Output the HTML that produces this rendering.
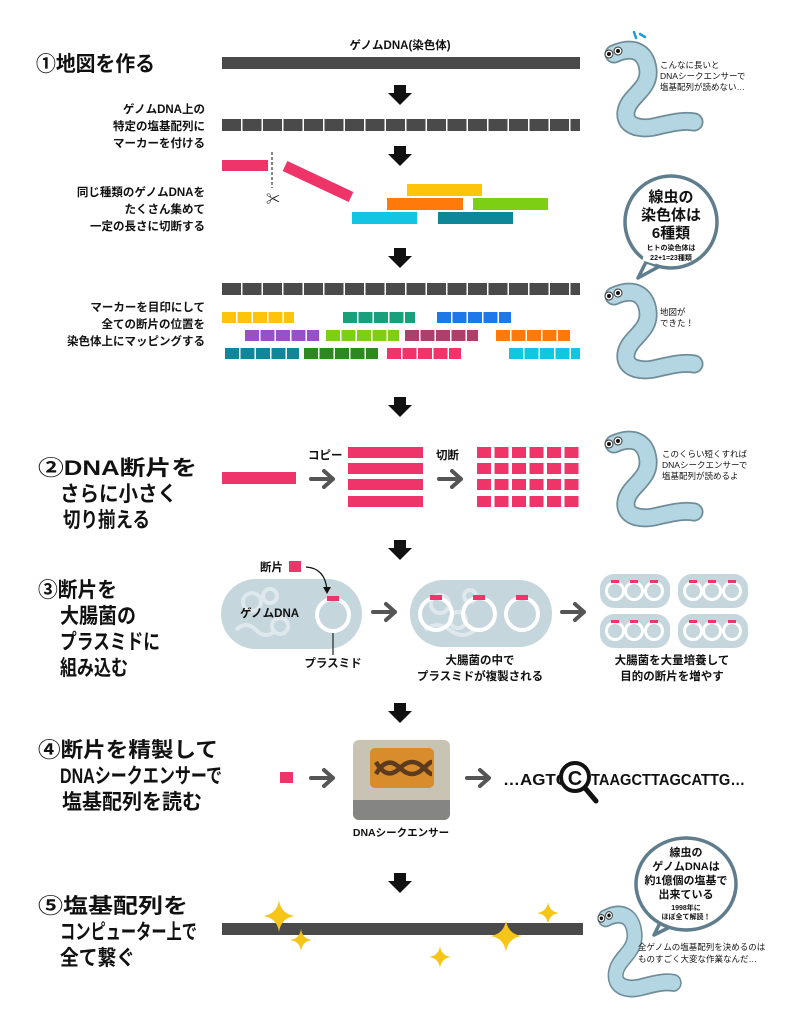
<!DOCTYPE html>
<html><head><meta charset="utf-8"><style>
html,body{margin:0;padding:0;background:#fff;}
svg{display:block;}
text{font-family:"Liberation Sans","Noto Sans CJK JP",sans-serif;font-weight:bold;fill:#111;}
.t{font-size:21px;}
.m{font-size:11.5px;}
.s{font-size:8.5px;font-weight:normal;}
</style></head><body>
<svg width="796" height="1024" viewBox="0 0 796 1024" xmlns="http://www.w3.org/2000/svg">
<defs>
<g id="darr"><rect x="-6" y="0" width="12" height="9" fill="#111"/><polygon points="-12,8 12,8 0,20" fill="#111"/></g>
<g id="rarr"><path d="M0 0 H22 M13 -8 L22 0 L13 8" stroke="#555" stroke-width="4" fill="none" stroke-linecap="round" stroke-linejoin="round"/></g>
<g id="worm">
<path d="M16 14 C33 6 48 10 50 30 C52 50 30 56 28 72 C26 88 45 90 60 86 C73 83 86 80 96 82" stroke="#6f8d99" stroke-width="19" fill="none" stroke-linecap="round"/>
<path d="M16 14 C33 6 48 10 50 30 C52 50 30 56 28 72 C26 88 45 90 60 86 C73 83 86 80 96 82" stroke="#b4d6e2" stroke-width="15.5" fill="none" stroke-linecap="round"/>
<circle cx="11" cy="14" r="4" fill="#fff" stroke="#333" stroke-width="1"/><circle cx="11" cy="14" r="2" fill="#111"/>
<circle cx="20" cy="11" r="4" fill="#fff" stroke="#333" stroke-width="1"/><circle cx="20" cy="11" r="2" fill="#111"/>
</g>
<g id="spark"><path d="M0 -1 Q0.12 -0.12 1 0 Q0.12 0.12 0 1 Q-0.12 0.12 -1 0 Q-0.12 -0.12 0 -1Z" fill="#f5c518"/></g>
</defs>

<!-- Section 1 -->
<text x="36" y="71" class="t" textLength="119" lengthAdjust="spacingAndGlyphs">①地図を作る</text>
<text x="400" y="49" class="m" text-anchor="middle">ゲノムDNA(染色体)</text>
<rect x="222" y="57" width="358" height="12" fill="#4a4a4a"/>
<use href="#darr" x="400" y="85"/>
<text x="205" y="113" class="m" text-anchor="end">ゲノムDNA上の</text>
<text x="205" y="130" class="m" text-anchor="end">特定の塩基配列に</text>
<text x="205" y="147" class="m" text-anchor="end">マーカーを付ける</text>
<rect x="222" y="119" width="358" height="12" fill="#4a4a4a"/>
<line x1="222" y1="125" x2="580" y2="125" stroke="#fff" stroke-width="12" stroke-dasharray="0 19 1.5 0"/>
<use href="#darr" x="400" y="146"/>
<rect x="222" y="160" width="46" height="11" fill="#ee3468"/>
<line x1="272" y1="152" x2="272" y2="188" stroke="#111" stroke-width="1" stroke-dasharray="3 2"/>
<text x="266" y="204" style="font-size:14px;font-weight:normal">✂</text>
<line x1="285" y1="166" x2="351" y2="197" stroke="#ee3468" stroke-width="11"/>
<text x="205" y="196" class="m" text-anchor="end">同じ種類のゲノムDNAを</text>
<text x="205" y="213" class="m" text-anchor="end">たくさん集めて</text>
<text x="205" y="230" class="m" text-anchor="end">一定の長さに切断する</text>
<rect x="407" y="184" width="75" height="12" fill="#fcc40a"/>
<rect x="387" y="198" width="76" height="12" fill="#ff7a0a"/>
<rect x="473" y="198" width="75" height="12" fill="#7ccf12"/>
<rect x="352" y="212" width="65" height="12" fill="#13c5e2"/>
<rect x="438" y="212" width="75" height="12" fill="#0e8799"/>
<use href="#darr" x="400" y="248"/>
<rect x="222" y="283" width="358" height="12" fill="#4a4a4a"/>
<line x1="222" y1="289" x2="580" y2="289" stroke="#fff" stroke-width="12" stroke-dasharray="0 19 1.5 0"/>
<text x="205" y="311" class="m" text-anchor="end">マーカーを目印にして</text>
<text x="205" y="328" class="m" text-anchor="end">全ての断片の位置を</text>
<text x="205" y="345" class="m" text-anchor="end">染色体上にマッピングする</text>
<g stroke="#fff" stroke-width="11" stroke-dasharray="0 14 1.5 0">
<rect x="222" y="312" width="72" height="11" fill="#fcc40a" stroke="none"/><line x1="222" y1="317.5" x2="294" y2="317.5"/>
<rect x="343" y="312" width="72" height="11" fill="#17a079" stroke="none"/><line x1="343" y1="317.5" x2="415" y2="317.5"/>
<rect x="437" y="312" width="74" height="11" fill="#1f78e8" stroke="none"/><line x1="437" y1="317.5" x2="511" y2="317.5"/>
<rect x="245" y="330" width="74" height="11" fill="#9b4fc4" stroke="none"/><line x1="245" y1="335.5" x2="319" y2="335.5"/>
<rect x="326" y="330" width="73" height="11" fill="#7ccf12" stroke="none"/><line x1="326" y1="335.5" x2="399" y2="335.5"/>
<rect x="405" y="330" width="73" height="11" fill="#a9416a" stroke="none"/><line x1="405" y1="335.5" x2="478" y2="335.5"/>
<rect x="496" y="330" width="74" height="11" fill="#ff7a0a" stroke="none"/><line x1="496" y1="335.5" x2="570" y2="335.5"/>
<rect x="225" y="348" width="74" height="11" fill="#0e8799" stroke="none"/><line x1="225" y1="353.5" x2="299" y2="353.5"/>
<rect x="304" y="348" width="74" height="11" fill="#2b8a1e" stroke="none"/><line x1="304" y1="353.5" x2="378" y2="353.5"/>
<rect x="387" y="348" width="74" height="11" fill="#ee3468" stroke="none"/><line x1="387" y1="353.5" x2="461" y2="353.5"/>
<rect x="509" y="348" width="71" height="11" fill="#13c5e2" stroke="none"/><line x1="509" y1="353.5" x2="580" y2="353.5"/>
</g>

<!-- worm 1 -->
<use href="#worm" x="598" y="40"/>
<path d="M634 32 l2 6 M640 34 l5 3" stroke="#1e9be0" stroke-width="2.5" stroke-linecap="round"/>
<text x="660" y="68" class="s">こんなに長いと</text>
<text x="660" y="79" class="s">DNAシークエンサーで</text>
<text x="660" y="90" class="s">塩基配列が読めない…</text>
<!-- bubble 1 -->
<path d="M646 262 L638 278 L660 266Z" fill="#fff" stroke="#5f7d8c" stroke-width="3.5" stroke-linejoin="round"/>
<circle cx="671" cy="222" r="46" fill="#fff" stroke="#5f7d8c" stroke-width="3.5"/>
<path d="M643 258 L656 262" stroke="#fff" stroke-width="5"/>
<text x="671" y="202" text-anchor="middle" style="font-size:15px">線虫の</text>
<text x="671" y="220" text-anchor="middle" style="font-size:15px">染色体は</text>
<text x="671" y="238" text-anchor="middle" style="font-size:15px">6種類</text>
<text x="671" y="250" text-anchor="middle" style="font-size:7px">ヒトの染色体は</text>
<text x="671" y="260" text-anchor="middle" style="font-size:7px">22+1=23種類</text>
<!-- worm 2 -->
<use href="#worm" x="598" y="282"/>
<text x="660" y="315" class="s">地図が</text>
<text x="660" y="326" class="s">できた！</text>

<use href="#darr" x="400" y="397"/>

<!-- Section 2 -->
<text x="38" y="475" class="t" textLength="159" lengthAdjust="spacingAndGlyphs">②DNA断片を</text>
<text x="60" y="501" class="t" textLength="117" lengthAdjust="spacingAndGlyphs">さらに小さく</text>
<text x="63" y="527" class="t" textLength="87" lengthAdjust="spacingAndGlyphs">切り揃える</text>
<rect x="222" y="472" width="74" height="12" fill="#ee3468"/>
<text x="308" y="459" class="m">コピー</text>
<use href="#rarr" x="311" y="479"/>
<g fill="#ee3468">
<rect x="348" y="447" width="75" height="11"/><rect x="348" y="463" width="75" height="11"/>
<rect x="348" y="479" width="75" height="11"/><rect x="348" y="496" width="75" height="11"/>
</g>
<text x="436" y="459" class="m">切断</text>
<use href="#rarr" x="439" y="479"/>
<g stroke="#fff" stroke-width="11" stroke-dasharray="0 14 3.5 0">
<rect x="477" y="447" width="102" height="11" fill="#ee3468" stroke="none"/><line x1="477" y1="452.5" x2="579" y2="452.5"/>
<rect x="477" y="463" width="102" height="11" fill="#ee3468" stroke="none"/><line x1="477" y1="468.5" x2="579" y2="468.5"/>
<rect x="477" y="479" width="102" height="11" fill="#ee3468" stroke="none"/><line x1="477" y1="484.5" x2="579" y2="484.5"/>
<rect x="477" y="496" width="102" height="11" fill="#ee3468" stroke="none"/><line x1="477" y1="501.5" x2="579" y2="501.5"/>
</g>
<use href="#worm" x="598" y="430"/>
<text x="662" y="457" class="s">このくらい短くすれば</text>
<text x="662" y="468" class="s">DNAシークエンサーで</text>
<text x="662" y="479" class="s">塩基配列が読めるよ</text>

<use href="#darr" x="400" y="540"/>

<!-- Section 3 -->
<text x="38" y="597" class="t" textLength="79" lengthAdjust="spacingAndGlyphs">③断片を</text>
<text x="60" y="623" class="t" textLength="76" lengthAdjust="spacingAndGlyphs">大腸菌の</text>
<text x="60" y="649" class="t" textLength="100" lengthAdjust="spacingAndGlyphs">プラスミドに</text>
<text x="60" y="675" class="t" textLength="68" lengthAdjust="spacingAndGlyphs">組み込む</text>
<rect x="221" y="579" width="141" height="70" rx="35" fill="#c6d6dd"/>
<g fill="none" stroke="#dfe8ec" stroke-width="4">
<circle cx="252" cy="602" r="9"/><circle cx="270" cy="596" r="7"/><path d="M236 630 q10 -10 20 0 t20 0"/><circle cx="280" cy="626" r="8"/>
</g>
<text x="240" y="617" class="m" fill="#333">ゲノムDNA</text>
<circle cx="333" cy="615" r="16" fill="none" stroke="#fff" stroke-width="4"/>
<rect x="327" y="596" width="12" height="5" fill="#ee3468"/>
<line x1="333" y1="633" x2="333" y2="655" stroke="#222" stroke-width="1.2"/>
<text x="333" y="667" class="m" text-anchor="middle">プラスミド</text>
<text x="260" y="571" class="m">断片</text>
<rect x="289" y="561" width="12" height="11" fill="#ee3468"/>
<path d="M306 567 Q325 568 327 590" fill="none" stroke="#111" stroke-width="1.2"/>
<polygon points="323,587 331,587 327,594" fill="#111"/>
<use href="#rarr" x="373" y="612"/>
<rect x="410" y="580" width="142" height="67" rx="33" fill="#c6d6dd"/>
<g fill="none" stroke="#dfe8ec" stroke-width="4"><circle cx="440" cy="604" r="9"/><circle cx="458" cy="620" r="8"/><path d="M425 630 q12 -10 25 0 t25 0"/><circle cx="470" cy="596" r="6"/></g>
<g fill="none" stroke="#fff" stroke-width="4"><circle cx="436" cy="614" r="16"/><circle cx="479" cy="614" r="16"/><circle cx="522" cy="614" r="16"/></g>
<g fill="#ee3468"><rect x="430" y="595" width="12" height="5"/><rect x="473" y="595" width="12" height="5"/><rect x="516" y="595" width="12" height="5"/></g>
<text x="480" y="664" class="m" text-anchor="middle">大腸菌の中で</text>
<text x="480" y="680" class="m" text-anchor="middle">プラスミドが複製される</text>
<use href="#rarr" x="562" y="612"/>
<g>
<rect x="600" y="574" width="70" height="34" rx="14" fill="#c6d6dd"/>
<rect x="678" y="574" width="70" height="34" rx="14" fill="#c6d6dd"/>
<rect x="600" y="614" width="70" height="34" rx="14" fill="#c6d6dd"/>
<rect x="678" y="614" width="70" height="34" rx="14" fill="#c6d6dd"/>
<g fill="none" stroke="#fff" stroke-width="3">
<circle cx="615" cy="591" r="8.5"/><circle cx="634" cy="591" r="8.5"/><circle cx="654" cy="591" r="8.5"/>
<circle cx="693" cy="591" r="8.5"/><circle cx="712" cy="591" r="8.5"/><circle cx="732" cy="591" r="8.5"/>
<circle cx="615" cy="631" r="8.5"/><circle cx="634" cy="631" r="8.5"/><circle cx="654" cy="631" r="8.5"/>
<circle cx="693" cy="631" r="8.5"/><circle cx="712" cy="631" r="8.5"/><circle cx="732" cy="631" r="8.5"/>
</g>
<g fill="#ee3468">
<rect x="611" y="580" width="8" height="3"/><rect x="630" y="580" width="8" height="3"/><rect x="650" y="580" width="8" height="3"/>
<rect x="689" y="580" width="8" height="3"/><rect x="708" y="580" width="8" height="3"/><rect x="728" y="580" width="8" height="3"/>
<rect x="611" y="620" width="8" height="3"/><rect x="630" y="620" width="8" height="3"/><rect x="650" y="620" width="8" height="3"/>
<rect x="689" y="620" width="8" height="3"/><rect x="708" y="620" width="8" height="3"/><rect x="728" y="620" width="8" height="3"/>
</g>
</g>
<text x="672" y="664" class="m" text-anchor="middle">大腸菌を大量培養して</text>
<text x="672" y="680" class="m" text-anchor="middle">目的の断片を増やす</text>

<use href="#darr" x="400" y="703"/>

<!-- Section 4 -->
<text x="38" y="757" class="t" textLength="180" lengthAdjust="spacingAndGlyphs">④断片を精製して</text>
<text x="60" y="783" class="t" textLength="162" lengthAdjust="spacingAndGlyphs">DNAシークエンサーで</text>
<text x="62" y="809" class="t" textLength="140" lengthAdjust="spacingAndGlyphs">塩基配列を読む</text>
<rect x="280" y="772" width="13" height="11" fill="#ee3468"/>
<use href="#rarr" x="311" y="778"/>
<rect x="353" y="740" width="97" height="80" rx="6" fill="#c9c3b3"/>
<path d="M353 800 H450 V814 a6 6 0 0 1 -6 6 H359 a6 6 0 0 1 -6 -6Z" fill="#858583"/>
<rect x="370" y="748" width="64" height="40" rx="5" fill="#d88c2c"/>
<path d="M376 762 C384 776 392 776 400 768 C408 760 416 760 424 768 C428 772 430 774 432 774 M376 774 C384 760 392 760 400 768 C408 776 416 776 424 768 C428 764 430 762 432 762" fill="none" stroke="#5b3a1e" stroke-width="4.5"/>
<text x="401" y="836" class="m" text-anchor="middle" style="font-size:10.5px">DNAシークエンサー</text>
<use href="#rarr" x="467" y="778"/>
<text x="503" y="785" style="font-size:15.5px" textLength="65" lengthAdjust="spacingAndGlyphs">…AGTC</text>
<text x="591" y="785" style="font-size:15.5px" textLength="154" lengthAdjust="spacingAndGlyphs">TAAGCTTAGCATTG…</text>
<line x1="585" y1="788" x2="596" y2="801" stroke="#111" stroke-width="5" stroke-linecap="round"/>
<circle cx="575" cy="777" r="14" fill="#fff" stroke="#111" stroke-width="4"/>
<text x="575" y="785" text-anchor="middle" style="font-size:20px">C</text>

<use href="#darr" x="400" y="873"/>

<!-- Section 5 -->
<text x="38" y="913" class="t" textLength="150" lengthAdjust="spacingAndGlyphs">⑤塩基配列を</text>
<text x="60" y="939" class="t" textLength="137" lengthAdjust="spacingAndGlyphs">コンピューター上で</text>
<text x="60" y="965" class="t" textLength="75" lengthAdjust="spacingAndGlyphs">全て繋ぐ</text>
<rect x="222" y="923" width="361" height="12" fill="#4a4a4a"/>
<use href="#spark" transform="translate(279,916) scale(16)"/>
<use href="#spark" transform="translate(301,940) scale(11)"/>
<use href="#spark" transform="translate(440,957) scale(11)"/>
<use href="#spark" transform="translate(506,936) scale(16)"/>
<use href="#spark" transform="translate(548,913) scale(11)"/>
<use href="#worm" transform="translate(592,905) scale(0.85,0.95)"/>
<path d="M664 915 L654 935 L680 922Z" fill="#fff" stroke="#5f7d8c" stroke-width="3.5" stroke-linejoin="round"/>
<ellipse cx="686" cy="884" rx="50" ry="46" fill="#fff" stroke="#5f7d8c" stroke-width="3.5"/>
<path d="M662 915 L677 921" stroke="#fff" stroke-width="5"/>
<text x="686" y="856" text-anchor="middle" style="font-size:11px">線虫の</text>
<text x="686" y="870" text-anchor="middle" style="font-size:11px">ゲノムDNAは</text>
<text x="686" y="884" text-anchor="middle" style="font-size:11px">約1億個の塩基で</text>
<text x="686" y="898" text-anchor="middle" style="font-size:11px">出来ている</text>
<text x="686" y="910" text-anchor="middle" style="font-size:7px">1998年に</text>
<text x="686" y="919" text-anchor="middle" style="font-size:7px">ほぼ全て解読！</text>
<text x="638" y="950" class="s">全ゲノムの塩基配列を決めるのは</text>
<text x="638" y="962" class="s">ものすごく大変な作業なんだ…</text>
</svg>
</body></html>
